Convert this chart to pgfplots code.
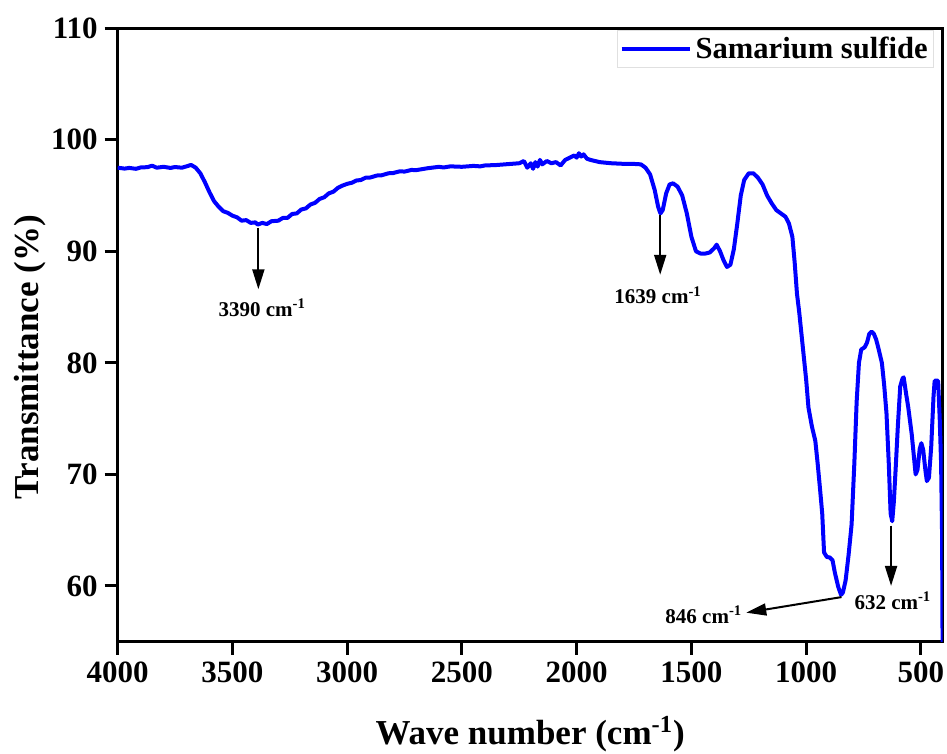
\documentclass[border=0pt]{standalone}
\usepackage{fontspec}
\setmainfont{Liberation Serif}
\usepackage{pgfplots}
\pgfplotsset{compat=1.18}
\usetikzlibrary{arrows.meta}

% FTIR spectrum of samarium sulfide (wavenumber in cm^-1, transmittance in %)
\pgfplotstableread{
w T
4000 97.50
3970 97.42
3950 97.48
3920 97.40
3900 97.52
3870 97.55
3850 97.68
3830 97.50
3800 97.58
3770 97.48
3750 97.56
3720 97.50
3700 97.62
3680 97.75
3660 97.50
3640 97.00
3620 96.20
3600 95.30
3580 94.50
3560 94.00
3540 93.60
3520 93.45
3500 93.20
3480 93.05
3460 92.75
3440 92.80
3420 92.55
3400 92.60
3390 92.40
3370 92.55
3350 92.45
3330 92.70
3300 92.75
3280 93.00
3260 93.00
3240 93.35
3220 93.40
3200 93.75
3180 93.85
3160 94.20
3140 94.35
3120 94.70
3100 94.85
3080 95.20
3060 95.35
3040 95.70
3020 95.90
3000 96.05
2980 96.15
2960 96.35
2940 96.40
2920 96.60
2900 96.62
2870 96.80
2850 96.82
2820 97.00
2800 97.02
2770 97.18
2750 97.15
2720 97.30
2700 97.28
2650 97.45
2600 97.58
2580 97.52
2550 97.62
2500 97.58
2450 97.66
2420 97.62
2400 97.70
2350 97.74
2300 97.82
2250 97.90
2230 98.10
2215 97.50
2200 97.90
2190 97.40
2180 98.00
2170 97.60
2160 98.20
2150 97.80
2130 98.10
2110 97.90
2090 98.00
2070 97.70
2050 98.20
2030 98.40
2010 98.60
2000 98.40
1990 98.80
1980 98.50
1970 98.70
1955 98.30
1940 98.20
1920 98.10
1900 98.00
1850 97.90
1800 97.85
1760 97.85
1720 97.80
1700 97.50
1680 96.90
1660 95.50
1645 94.00
1635 93.40
1625 93.70
1610 95.20
1595 96.00
1580 96.10
1560 95.80
1540 95.00
1520 93.40
1500 91.30
1480 90.00
1460 89.80
1440 89.80
1420 89.90
1400 90.30
1390 90.60
1375 90.00
1360 89.20
1345 88.60
1330 88.80
1315 90.20
1300 92.50
1285 95.00
1270 96.40
1250 97.00
1230 97.00
1210 96.60
1190 96.00
1170 95.00
1150 94.30
1130 93.70
1110 93.40
1090 93.10
1075 92.50
1060 91.30
1050 89.00
1040 86.20
1030 84.50
1015 81.50
1000 78.50
990 76.00
975 74.30
960 73.00
950 71.00
940 68.80
930 66.50
922 63.00
910 62.60
897 62.55
885 62.30
875 61.20
860 59.90
848 59.20
840 59.40
828 60.50
815 62.80
802 65.50
790 71.00
780 76.50
770 80.00
760 81.20
745 81.40
735 81.80
725 82.60
715 82.80
705 82.60
695 82.10
685 81.30
670 80.00
660 78.00
650 75.50
640 71.00
632 66.50
625 65.80
618 67.50
610 70.50
600 74.50
590 77.90
580 78.60
575 78.70
565 77.30
555 76.00
540 73.60
530 71.50
523 70.00
515 70.40
505 72.30
498 72.80
490 72.20
480 70.30
474 69.40
465 69.70
455 72.50
445 77.00
440 78.40
425 78.40
418 75.00
412 71.00
408 65.00
406 58.00
405.5 50.00
}\ftirdata

\begin{document}
\begin{tikzpicture}
\useasboundingbox (0,0) rectangle (473.5pt,377pt);
\begin{axis}[
  at={(58.85pt,56.15pt)}, anchor=south west,
  scale only axis, width=412.5pt, height=306.7pt,
  x dir=reverse,
  xmin=405, xmax=4000, ymin=55, ymax=110,
  xtick={500,1000,...,4000}, ytick={60,70,...,110},
  xtick pos=bottom, ytick pos=left,
  tick align=outside, major tick length=6.5pt,
  axis line style={line width=1.5pt},
  tick style={line width=1.5pt, black},
  /pgf/number format/assume math mode=true,
  /pgf/number format/1000 sep={},
  tick label style={font=\bfseries\fontsize{15.5}{18}\selectfont},
  label style={font=\bfseries\fontsize{17.5}{21}\selectfont},
  xlabel={Wave number (cm\textsuperscript{-1})},
  ylabel={Transmittance (\%)},
  xlabel style={at={(axis description cs:0.5,-0.168)}, anchor=base},
  ylabel style={at={(axis description cs:-0.078,0.464)}, anchor=south},
  legend cell align=left,
  legend style={at={(axis description cs:0.9895,0.997)}, anchor=north east,
    draw=black!12, fill=white, inner sep=1pt,
    font=\bfseries\fontsize{15.3}{18}\selectfont},
  legend image code/.code={\draw[#1] (0pt,0pt) -- (34pt,0pt);},
]
\addplot[color=blue, line width=2pt, line join=round] table[x=w, y=T] {\ftirdata};
\addlegendentry{Samarium sulfide}

% peak markers
\draw[-{Triangle[length=10pt,width=6pt]}, line width=1pt]
  (axis cs:3387,92.1) -- (axis cs:3387,86.6);
\node[anchor=north, inner sep=0pt, font=\bfseries\fontsize{10.5}{12}\selectfont]
  at (axis cs:3370,85.8) {3390 cm\textsuperscript{-1}};
\draw[-{Triangle[length=10pt,width=6pt]}, line width=1pt]
  (axis cs:1636,93.3) -- (axis cs:1636,87.9);
\node[anchor=north, inner sep=0pt, font=\bfseries\fontsize{10.5}{12}\selectfont]
  at (axis cs:1645,86.9) {1639 cm\textsuperscript{-1}};
\draw[-{Triangle[length=10pt,width=6pt]}, line width=1pt]
  (axis cs:630,65.4) -- (axis cs:630,60.0);
\node[anchor=north, inner sep=0pt, font=\bfseries\fontsize{10.5}{12}\selectfont]
  at (axis cs:622,59.5) {632 cm\textsuperscript{-1}};
\draw[-{Triangle[length=10pt,width=6pt]}, line width=1pt]
  (axis cs:846,59.0) -- (axis cs:1261,57.6);
\node[anchor=east, inner sep=1pt, font=\bfseries\fontsize{10.5}{12}\selectfont]
  at (axis cs:1268,57.45) {846 cm\textsuperscript{-1}};
\end{axis}
\end{tikzpicture}
\end{document}
